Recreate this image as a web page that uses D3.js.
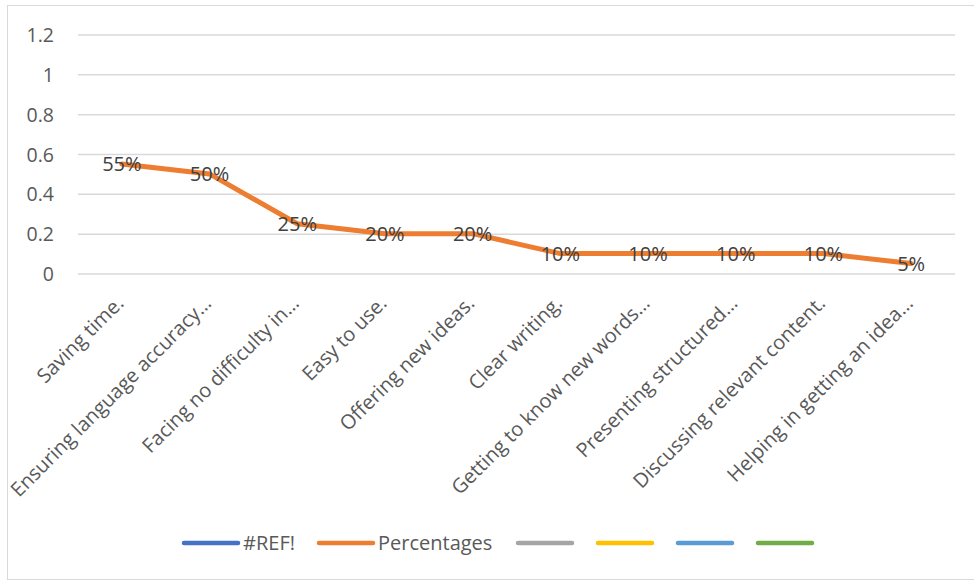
<!DOCTYPE html>
<html>
<head>
<meta charset="utf-8">
<script src="https://cdn.jsdelivr.net/npm/d3@7"></script>
<style>
  html, body { margin: 0; padding: 0; background: #fff; }
  svg { display: block; }
  text { font-family: "Open Sans", "Noto Sans", sans-serif; }
</style>
</head>
<body>
<svg id="chart" width="974" height="581"></svg>
<script>
// Survey responses: share of respondents naming each benefit
const categories = [
  "Saving time.",
  "Ensuring language accuracy…",
  "Facing no difficulty in…",
  "Easy to use.",
  "Offering new ideas.",
  "Clear writing.",
  "Getting to know new words…",
  "Presenting structured…",
  "Discussing relevant content.",
  "Helping in getting an idea…"
];
const percentages = [0.55, 0.50, 0.25, 0.20, 0.20, 0.10, 0.10, 0.10, 0.10, 0.05];
const yTicks = [0, 0.2, 0.4, 0.6, 0.8, 1, 1.2];
const legendNames = ["#REF!", "Percentages", "", "", "", ""];
const legendColors = ["#4472C4", "#ED7D31", "#A5A5A5", "#FFC000", "#5B9BD5", "#70AD47"];

const svg = d3.select("#chart");
const FONT = "'Open Sans', 'Noto Sans', sans-serif";

// chart area frame
svg.append("rect")
  .attr("x", 7.5).attr("y", 5.5)
  .attr("width", 980).attr("height", 574)
  .attr("fill", "#fff").attr("stroke", "#D9D9D9").attr("stroke-width", 1);

const plot = { left: 78, right: 955, top: 34.5, bottom: 273.5 };

const x = d3.scaleBand().domain(categories).range([plot.left, plot.right]);
const y = d3.scaleLinear().domain([0, 1.2]).range([plot.bottom, plot.top]);

// horizontal gridlines and value axis labels
const yAxis = d3.axisLeft(y).tickValues(yTicks).tickSize(-(plot.right - plot.left))
  .tickPadding(24).tickFormat(d => d3.format("~g")(d));
const gy = svg.append("g").attr("transform", `translate(${plot.left},0)`).call(yAxis);
gy.select(".domain").remove();
gy.selectAll(".tick line").attr("stroke", "#D9D9D9").attr("stroke-width", 1.5);
gy.selectAll(".tick text").attr("font-size", 19.5).style("fill", "#595959")
  .attr("font-family", FONT).attr("dy", "0.36em");

// category axis with rotated labels
const gx = svg.append("g").attr("transform", `translate(0,${plot.bottom})`)
  .call(d3.axisBottom(x).tickSize(0).tickPadding(0));
gx.select(".domain").remove();
gx.selectAll(".tick text")
  .attr("font-size", 20)
  .attr("font-family", FONT)
  .style("fill", "#595959")
  .attr("text-anchor", "end")
  .attr("x", 0).attr("y", 0).attr("dy", 0)
  .attr("transform", "translate(3,31) rotate(-45)");

// data line
const line = d3.line()
  .x((d, i) => x(categories[i]) + x.bandwidth() / 2)
  .y(d => y(d));
svg.append("path")
  .datum(percentages)
  .attr("d", line)
  .attr("fill", "none")
  .attr("stroke", "#ED7D31")
  .attr("stroke-width", 5)
  .attr("stroke-linejoin", "round")
  .attr("stroke-linecap", "round");

// value labels centred on each point
svg.append("g").selectAll("text")
  .data(percentages)
  .join("text")
  .attr("x", (d, i) => x(categories[i]) + x.bandwidth() / 2)
  .attr("y", d => y(d))
  .attr("dy", "0.36em")
  .attr("text-anchor", "middle")
  .attr("font-size", 20)
  .attr("font-family", FONT)
  .style("fill", "#404040")
  .text(d => d3.format(".0%")(d));

// legend
const legendX = [184, 319, 518, 598, 678, 758];
const lg = svg.append("g").attr("transform", "translate(0,543)");
legendNames.forEach((name, i) => {
  const g = lg.append("g").attr("transform", `translate(${legendX[i]},0)`);
  g.append("line").attr("x1", 0).attr("x2", 54).attr("y1", 0).attr("y2", 0)
    .attr("stroke", legendColors[i]).attr("stroke-width", 4.5).attr("stroke-linecap", "round");
  if (name) {
    g.append("text").attr("x", 59).attr("y", 0).attr("dy", "0.36em")
      .attr("font-size", 20).attr("font-family", FONT)
      .style("fill", "#595959").text(name);
  }
});
</script>
</body>
</html>
